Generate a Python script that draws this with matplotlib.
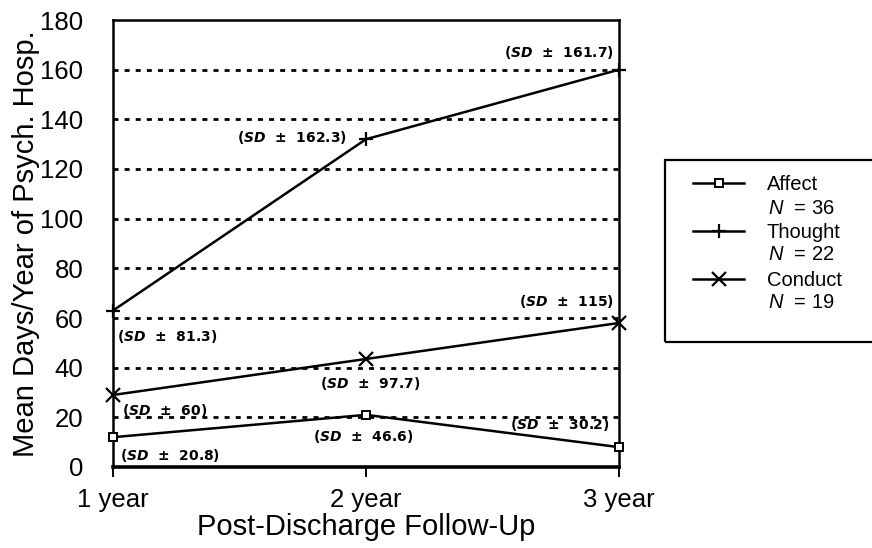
import matplotlib
matplotlib.use("Agg")
import matplotlib.pyplot as plt
from matplotlib.patches import Rectangle

plt.rcParams['font.family'] = ['Liberation Sans', 'DejaVu Sans']
plt.rcParams['mathtext.fontset'] = 'custom'
plt.rcParams['mathtext.it'] = 'Liberation Sans:italic'
plt.rcParams['mathtext.rm'] = 'Liberation Sans'
plt.rcParams['mathtext.bfit'] = 'DejaVu Sans:italic:bold'

# Follow-up periods and mean days per year of psychiatric hospitalisation
years = ["1 year", "2 year", "3 year"]
affect = [12, 21, 8]
thought = [63, 132, 160]
conduct = [29, 43.5, 58]

# Standard deviations printed next to each point
affect_sd = ["20.8", "46.6", "30.2"]
thought_sd = ["81.3", "162.3", "161.7"]
conduct_sd = ["60", "97.7", "115"]

group_n = {"Affect": 36, "Thought": 22, "Conduct": 19}

fig = plt.figure(figsize=(8.72, 5.48), dpi=100)
ax = fig.add_axes([113 / 872, 1 - 467 / 548, (619 - 113) / 872, (467 - 20) / 548])

x = list(range(len(years)))
lw = 1.8
l_aff, = ax.plot(x, affect, color='black', lw=lw, marker='s', ms=6,
                 mfc='white', mec='black', mew=1.4, clip_on=False, zorder=3)
l_tho, = ax.plot(x, thought, color='black', lw=lw, marker='+', ms=10,
                 mew=1.6, clip_on=False, zorder=3)
l_con, = ax.plot(x, conduct, color='black', lw=lw, marker='x', ms=10,
                 mew=1.6, clip_on=False, zorder=3)

ax.set_xlim(0, 2)
ax.set_ylim(0, 180)
ax.set_xticks(x)
ax.set_xticklabels(years)
ax.set_yticks(range(0, 181, 20))

for v in range(20, 180, 20):
    ax.axhline(v, color='black', lw=2.0, ls=(0, (1.8, 2.2)), zorder=1)

for side in ['left', 'right', 'top']:
    ax.spines[side].set_linewidth(1.8)
ax.spines['bottom'].set_linewidth(2.6)

ax.tick_params(axis='y', length=0, pad=21.5, labelsize=18.5)
ax.tick_params(axis='x', length=7, width=1.4, direction='out', pad=8, labelsize=18.5)

ax.set_ylabel("Mean Days/Year of Psych. Hosp.", fontsize=21, labelpad=0)
ax.set_xlabel("Post-Discharge Follow-Up", fontsize=21, labelpad=1)


def sd_label(val):
    return "($\\mathbfit{SD}$  \u00b1  " + val + ")"


ann_kw = dict(textcoords='offset pixels', fontsize=10, va='center',
              family=['DejaVu Sans'], fontweight='bold', color='black')

# Thought
offs = [(4, -26, 'left'), (-19, 2, 'right'), (-5, 17, 'right')]
for xi, yi, sd, (dx, dy, ha) in zip(x, thought, thought_sd, offs):
    ax.annotate(sd_label(sd), (xi, yi), xytext=(dx, dy), ha=ha, **ann_kw)
# Conduct
offs = [(9, -16, 'left'), (4, -25, 'center'), (-5, 21, 'right')]
for xi, yi, sd, (dx, dy, ha) in zip(x, conduct, conduct_sd, offs):
    ax.annotate(sd_label(sd), (xi, yi), xytext=(dx, dy), ha=ha, **ann_kw)
# Affect
offs = [(7, -18, 'left'), (-3, -22, 'center'), (-9, 23, 'right')]
for xi, yi, sd, (dx, dy, ha) in zip(x, affect, affect_sd, offs):
    ax.annotate(sd_label(sd), (xi, yi), xytext=(dx, dy), ha=ha, **ann_kw)

# Legend with group sizes beneath each name
names = list(group_n.keys())
leg = fig.legend([l_aff, l_tho, l_con], names, loc='upper left',
                 bbox_to_anchor=(693 / 872, 1 - 175 / 548), frameon=False,
                 fontsize=14.5, handlelength=2.55, handletextpad=1.1,
                 labelspacing=1.45, borderaxespad=0, borderpad=0)
name_y = [185, 232, 279]
for name, yy in zip(names, name_y):
    fig.text(768 / 872, 1 - (yy + 23) / 548, "$N$  = %d" % group_n[name],
             fontsize=14.5, va='center', ha='left')

fig.add_artist(Rectangle((665 / 872, 1 - 342 / 548), 0.3, (342 - 160) / 548,
                         transform=fig.transFigure, fill=False, lw=1.6,
                         ec='black', clip_on=False))

fig.savefig("out.png", dpi=100)
